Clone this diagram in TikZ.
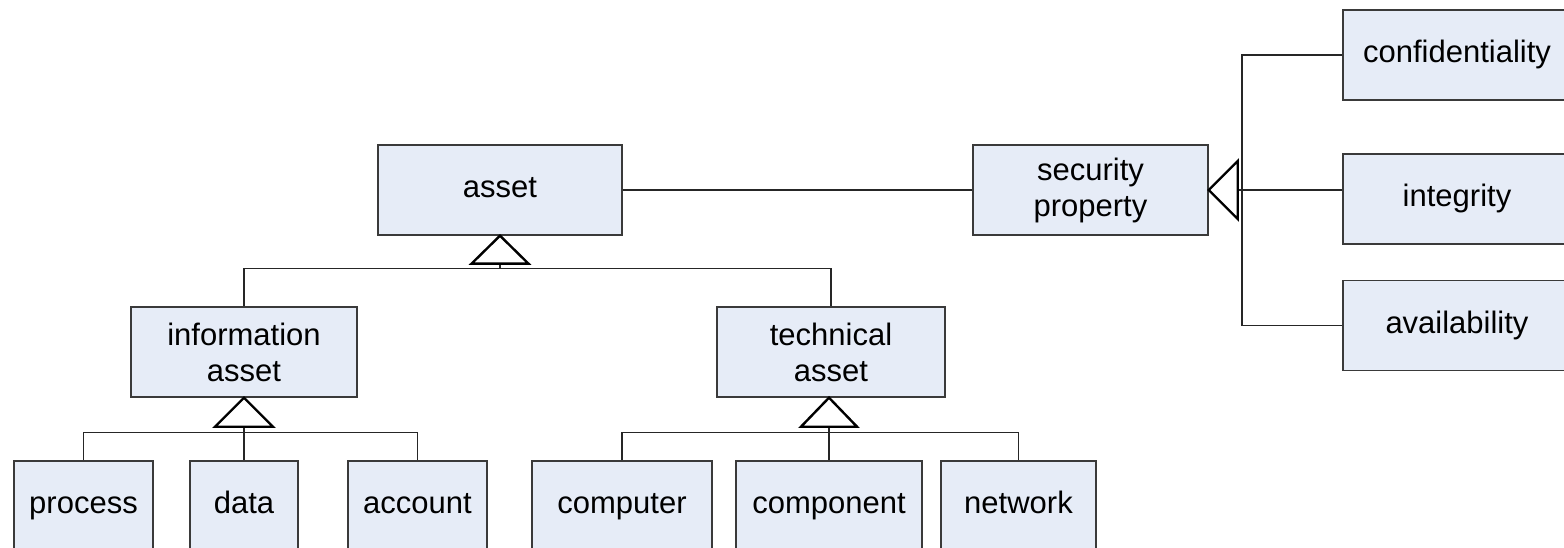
\documentclass[tikz,border=0pt]{standalone}
\usepackage{fontspec}
\setmainfont{Liberation Sans}
\definecolor{boxfill}{HTML}{E6ECF7}
\definecolor{boxline}{HTML}{3A3A3A}

\begin{document}
\begin{tikzpicture}[x=1pt,y=-1pt,
    cls/.style={draw=boxline, fill=boxfill, line width=1.4pt, inner sep=0pt,
        minimum height=90pt, align=center, font=\fontsize{31}{36}\selectfont},
    oneline/.style={cls, text height=22pt, text depth=6.5pt},
    link/.style={line width=1.4pt, draw=black!85},
    gen/.style={line width=2.4pt, draw=black, fill=white, line join=miter}]

\useasboundingbox (0,0) rectangle (1564,548);

% upper classes
\node[oneline, minimum width=244pt] (asset) at (500,190) {asset};
\node[cls, minimum width=235pt] (secprop) at (1090.5,190) {security\\property};

\node[oneline, minimum width=228pt] (conf) at (1457,55) {confidentiality};
\node[oneline, minimum width=228pt] (integ) at (1457,199) {integrity};
\node[oneline, minimum width=228pt] (avail) at (1457,325.5) {availability};

\node[cls, minimum width=226pt] (infoasset) at (244,352) {information\\asset};
\node[cls, minimum width=228pt] (techasset) at (831,352) {technical\\asset};

% lower classes
\node[oneline, minimum width=139pt] (process) at (83.5,506) {process};
\node[oneline, minimum width=108pt] (data) at (244,506) {data};
\node[oneline, minimum width=139pt] (account) at (417.5,506) {account};

\node[oneline, minimum width=180pt] (computer) at (622,506) {computer};
\node[oneline, minimum width=186pt] (component) at (829,506) {component};
\node[oneline, minimum width=155pt] (network) at (1018.5,506) {network};

% association
\draw[link] (asset.east) -- (secprop.west);

% asset hierarchy
\draw[link] (asset.south) ++(0,28) -- ++(0,5) coordinate (abar);
\draw[link] (infoasset.north) |- (abar) -| (techasset.north);
\draw[gen] (asset.south) -- ++(-28.5,28) -- ++(57,0) -- cycle;

\draw[link] (infoasset.south) ++(0,29) -- ++(0,6) coordinate (ibar);
\draw[link] (process.north) |- (ibar) -| (account.north);
\draw[link] (ibar) -- (data.north);
\draw[gen] (infoasset.south) -- ++(-29,29) -- ++(58,0) -- cycle;

\draw[link] (techasset.south) ++(-2,29) -- ++(0,6) coordinate (tbar);
\draw[link] (computer.north) |- (tbar) -| (network.north);
\draw[link] (component.north) |- (tbar);
\draw[gen] ([xshift=-2pt]techasset.south) -- ++(-28,29) -- ++(56,0) -- cycle;

% security properties
\coordinate (pbar) at (1242,190);
\draw[link] (conf.west) -| (pbar) |- (avail.west);
\draw[link] (secprop.east) ++(29,0) -- (pbar -| integ.west);
\draw[gen] (secprop.east) -- ++(29,-29) -- ++(0,58) -- cycle;

\end{tikzpicture}
\end{document}
